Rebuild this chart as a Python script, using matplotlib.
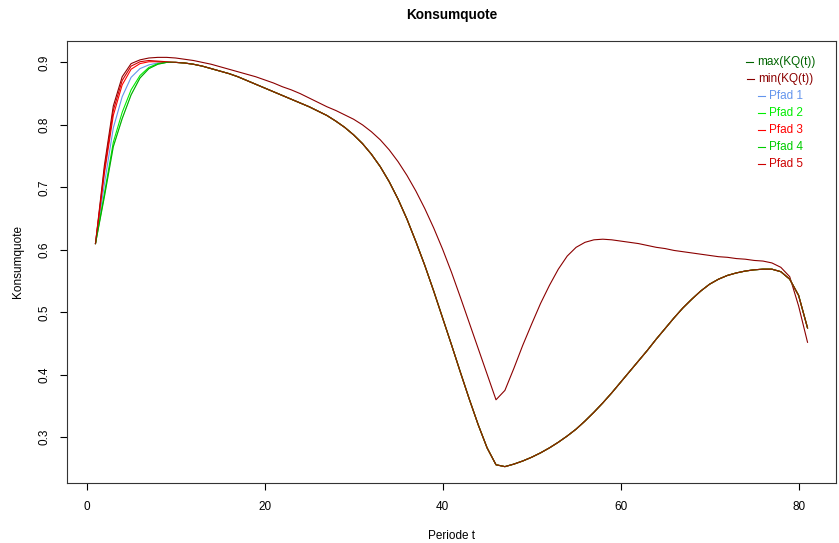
import matplotlib
matplotlib.use("Agg")
import matplotlib.pyplot as plt
from matplotlib.lines import Line2D
import numpy as np

plt.rcParams['font.family'] = ['Liberation Sans', 'DejaVu Sans']

# periods
t = list(range(1, 82))

# common part of all paths from t = 10 on
common = [0.900, 0.899, 0.897, 0.894, 0.890, 0.886, 0.882, 0.877, 0.871, 0.865,
          0.859, 0.853, 0.847, 0.841, 0.835, 0.829, 0.822, 0.815, 0.806, 0.796,
          0.784, 0.770, 0.753, 0.733, 0.709, 0.681, 0.649, 0.613, 0.575, 0.534,
          0.491, 0.448, 0.404, 0.361, 0.320, 0.283, 0.256, 0.253, 0.257, 0.262,
          0.268, 0.275, 0.283, 0.292, 0.302, 0.313, 0.326, 0.340, 0.355, 0.371,
          0.388, 0.405, 0.422, 0.439, 0.457, 0.474, 0.491, 0.507, 0.521, 0.534,
          0.545, 0.553, 0.559, 0.563, 0.566, 0.568, 0.569, 0.569, 0.565, 0.553,
          0.527, 0.475]

# first nine periods of each path
start_p1 = [0.610, 0.705, 0.795, 0.845, 0.876, 0.890, 0.896, 0.899, 0.900]
start_p2 = [0.610, 0.690, 0.772, 0.820, 0.856, 0.879, 0.892, 0.898, 0.900]
start_p3 = [0.610, 0.722, 0.815, 0.864, 0.889, 0.898, 0.901, 0.901, 0.900]
start_p4 = [0.610, 0.685, 0.765, 0.810, 0.848, 0.875, 0.890, 0.897, 0.900]
start_p5 = [0.610, 0.728, 0.823, 0.871, 0.894, 0.901, 0.903, 0.902, 0.901]

kq_upper = [0.610, 0.735, 0.830, 0.877, 0.898, 0.904, 0.907, 0.908, 0.908, 0.907,
            0.905, 0.903, 0.900, 0.897, 0.893, 0.889, 0.885, 0.881, 0.877, 0.872,
            0.867, 0.861, 0.856, 0.850, 0.843, 0.836, 0.829, 0.823, 0.816, 0.809,
            0.800, 0.789, 0.776, 0.760, 0.741, 0.719, 0.694, 0.666, 0.635, 0.601,
            0.564, 0.524, 0.483, 0.442, 0.401, 0.360, 0.375, 0.410, 0.447, 0.481,
            0.514, 0.543, 0.569, 0.590, 0.604, 0.612, 0.616, 0.617, 0.616, 0.614,
            0.612, 0.610, 0.607, 0.604, 0.602, 0.599, 0.597, 0.595, 0.593, 0.591,
            0.589, 0.588, 0.586, 0.585, 0.583, 0.582, 0.579, 0.572, 0.557, 0.510,
            0.452]

pfad1 = start_p1 + common
pfad2 = start_p2 + common
pfad3 = start_p3 + common
pfad4 = start_p4 + common
pfad5 = start_p5 + common
kq_lower = pfad4

labels = ["max(KQ(t))", "min(KQ(t))", "Pfad 1", "Pfad 2", "Pfad 3", "Pfad 4", "Pfad 5"]
colors = ["#006400", "#8B0000", "#6495ED", "#00EE00", "#FF0000", "#00CD00", "#CD0000"]

W, H = 839, 543
fig = plt.figure(figsize=(W / 100, H / 100), dpi=100)
ax = fig.add_axes([67 / W, 1 - 483 / H, (836 - 67) / W, (483 - 41) / H])

lw = 0.8
ax.plot(t, kq_upper, color=colors[1], lw=lw)
for y, c in zip([pfad1, pfad2, pfad3, pfad4, pfad5], colors[2:]):
    ax.plot(t, y, color=c, lw=lw)
ax.plot(t, kq_lower, color=colors[0], lw=lw, alpha=0.3)

# R style axis extension of 4 %
allv = np.concatenate([kq_upper, kq_lower, pfad1, pfad2, pfad3, pfad4, pfad5])
ymin, ymax = allv.min(), allv.max()
ext = 0.04 * (ymax - ymin)
ax.set_ylim(ymin - ext, ymax + ext)
ax.set_xlim(1 - 0.04 * 80, 81 + 0.04 * 80)

ax.set_xticks([0, 20, 40, 60, 80])
ax.set_yticks([0.3, 0.4, 0.5, 0.6, 0.7, 0.8, 0.9])
ax.set_yticklabels(["0.3", "0.4", "0.5", "0.6", "0.7", "0.8", "0.9"],
                   rotation=90, va="center")
ax.tick_params(direction="out", length=5, width=0.8, labelsize=8.5, pad=8)
ax.tick_params(axis="y", pad=7)
for s in ax.spines.values():
    s.set_linewidth(0.8)
    s.set_color("#333333")

ax.set_xlabel("Periode t", fontsize=8.5, labelpad=12)
ax.set_ylabel("Konsumquote", fontsize=8.5, labelpad=10)
ax.set_title("Konsumquote", fontsize=9.8, fontweight="bold", pad=16)

# legend, entries centred as in the source
fig.canvas.draw()
renderer = fig.canvas.get_renderer()
inv = fig.transFigure.inverted()
for i, (lab, c) in enumerate(zip(labels, colors)):
    yp = 62 + 17 * i
    txt = fig.text((780.5 + 5.5) / W, 1 - yp / H, lab, color=c, fontsize=8.5,
                   ha="center", va="center")
    bb = txt.get_window_extent(renderer)
    x0 = bb.x0
    yc = H - yp
    p = inv.transform([[x0 - 11, yc], [x0 - 4, yc]])
    fig.add_artist(Line2D(p[:, 0], p[:, 1], color=c, lw=0.8,
                          transform=fig.transFigure))

fig.savefig("out.png", dpi=100)
